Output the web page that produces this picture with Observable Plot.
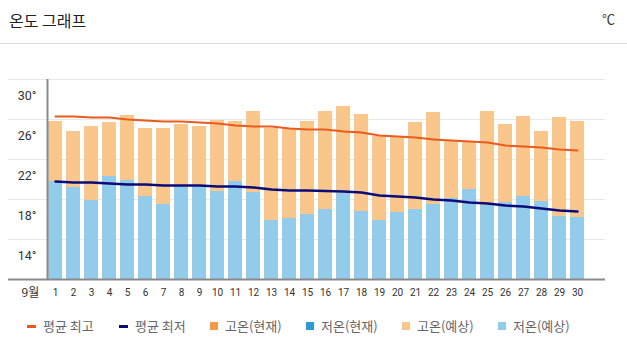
<!DOCTYPE html>
<html>
<head>
<meta charset="utf-8">
<script src="https://cdn.jsdelivr.net/npm/d3@7"></script>
<script src="https://cdn.jsdelivr.net/npm/@observablehq/plot@0.6"></script>
<style>
  html, body { margin: 0; padding: 0; background: #fff; }
  body { width: 627px; height: 355px; position: relative; overflow: hidden;
         font-family: "Noto Sans CJK KR", "Noto Sans", sans-serif; }
  #header { position: absolute; left: 0; top: 0; width: 627px; height: 43px; border-bottom: 1px solid #dcdcdc; }
  #title { position: absolute; left: 9px; top: 0; line-height: 40px; font-size: 16px; color: #222; }
  #unit { position: absolute; left: 602px; top: 0; line-height: 38px; font-size: 13px; color: #333; }
  #chart { position: absolute; left: 0; top: 44px; }
  #legend { position: absolute; left: 0; top: 316px; width: 627px; height: 20px; }
  .item { position: absolute; top: 0; height: 20px; line-height: 20px; font-size: 13px; color: #666; white-space: nowrap; }
  .sw { display: inline-block; vertical-align: middle; margin-right: 7px; position: relative; top: -1px; }
  .dash { width: 9px; height: 3px; }
  .sq { width: 8px; height: 8px; }
</style>
</head>
<body>
<div id="header"><div id="title">온도 그래프</div><div id="unit">℃</div></div>
<div id="chart"></div>
<div id="legend"></div>
<script>
const days = [1,2,3,4,5,6,7,8,9,10,11,12,13,14,15,16,17,18,19,20,21,22,23,24,25,26,27,28,29,30];
const highForecast = [25.8,24.8,25.3,25.7,26.4,25.1,25.1,25.5,25.3,25.9,25.8,26.8,25.1,25.0,25.8,26.8,27.3,26.5,24.3,24.3,25.7,26.7,23.8,23.8,26.8,25.5,26.3,24.8,26.2,25.8];
const lowForecast = [19.8,19.2,17.9,20.3,19.9,18.3,17.5,19.3,19.3,18.8,19.8,18.7,15.9,16.1,16.5,17.0,18.6,16.8,15.9,16.7,17.0,17.5,18.1,19.0,17.4,17.7,18.3,17.8,16.3,16.2];
const avgHigh = [26.3,26.3,26.2,26.2,26.0,25.9,25.8,25.8,25.7,25.6,25.4,25.3,25.3,25.1,25.0,25.0,24.8,24.7,24.4,24.3,24.2,24.0,23.9,23.8,23.7,23.4,23.3,23.2,23.0,22.9];
const avgLow = [19.8,19.7,19.7,19.6,19.5,19.5,19.4,19.4,19.4,19.3,19.3,19.2,19.0,18.9,18.9,18.85,18.8,18.7,18.4,18.3,18.2,18.0,17.9,17.7,17.6,17.4,17.3,17.1,16.9,16.8];
const yTicks = [14,18,22,26,30];
const yFloor = 10;
const monthLabel = "9월";
const legendLabels = ["평균 최고","평균 최저","고온(현재)","저온(현재)","고온(예상)","저온(예상)"];

const colAvgHigh = "#ea5b1c";
const colAvgLow = "#0b0b7a";
const colHighNow = "#f29a45";
const colLowNow = "#2d9bd2";
const colHighFc = "#f9c68c";
const colLowFc = "#93cbea";

const table = days.map((d, i) => ({day: d, hi: highForecast[i], lo: lowForecast[i], avgHi: avgHigh[i], avgLo: avgLow[i]}));

const chart = Plot.plot({
  width: 627,
  height: 260,
  marginLeft: 47,
  marginRight: 22,
  marginTop: 35,
  marginBottom: 25,
  style: {fontFamily: "Roboto, 'Noto Sans CJK KR', sans-serif", fontSize: "10px", color: "#333", background: "white"},
  x: {type: "band", domain: days, range: [46, 586], paddingInner: 0.22, paddingOuter: 0.11, axis: null, label: null},
  y: {domain: [yFloor, 30], axis: null, label: null},
  marks: [
    Plot.gridY(yTicks, {stroke: "#e9e9e9", strokeOpacity: 1, insetLeft: -39}),
    Plot.barY(table, {x: "day", y1: yFloor, y2: "hi", fill: colHighFc}),
    Plot.barY(table, {x: "day", y1: yFloor, y2: "lo", fill: colLowFc}),
    Plot.lineY(table, {x: "day", y: "avgHi", stroke: colAvgHigh, strokeWidth: 2}),
    Plot.lineY(table, {x: "day", y: "avgLo", stroke: colAvgLow, strokeWidth: 2.5}),
    Plot.ruleY([yFloor], {stroke: "#8a8a8a", strokeWidth: 2, insetLeft: -39}),
    Plot.ruleX([days[0]], {y1: yFloor, y2: 30, stroke: "#8a8a8a", strokeWidth: 2, dx: -8}),
    Plot.axisY(yTicks, {tickSize: 0, tickPadding: 11, dy: 16, tickFormat: d => d + "°", fontSize: 12.5, fill: "#333", label: null}),
    Plot.axisX({tickSize: 0, tickPadding: 9, fontSize: 10, fill: "#333", label: null}),
    Plot.text([monthLabel], {frameAnchor: "bottom-left", dx: -26, dy: 17, fontSize: 12, fill: "#333", fontFamily: "'Noto Sans CJK KR', sans-serif"})
  ]
});
document.getElementById("chart").appendChild(chart);

const legendColors = [colAvgHigh, colAvgLow, colHighNow, colLowNow, colHighFc, colLowFc];
const legendLeft = [27, 119, 210, 306, 402, 498];
const legend = document.getElementById("legend");
legendLabels.forEach((lab, i) => {
  const it = document.createElement("div");
  it.className = "item";
  it.style.left = legendLeft[i] + "px";
  const sw = document.createElement("span");
  sw.className = "sw " + (i < 2 ? "dash" : "sq");
  sw.style.background = legendColors[i];
  it.appendChild(sw);
  it.appendChild(document.createTextNode(lab));
  legend.appendChild(it);
});
</script>
</body>
</html>
